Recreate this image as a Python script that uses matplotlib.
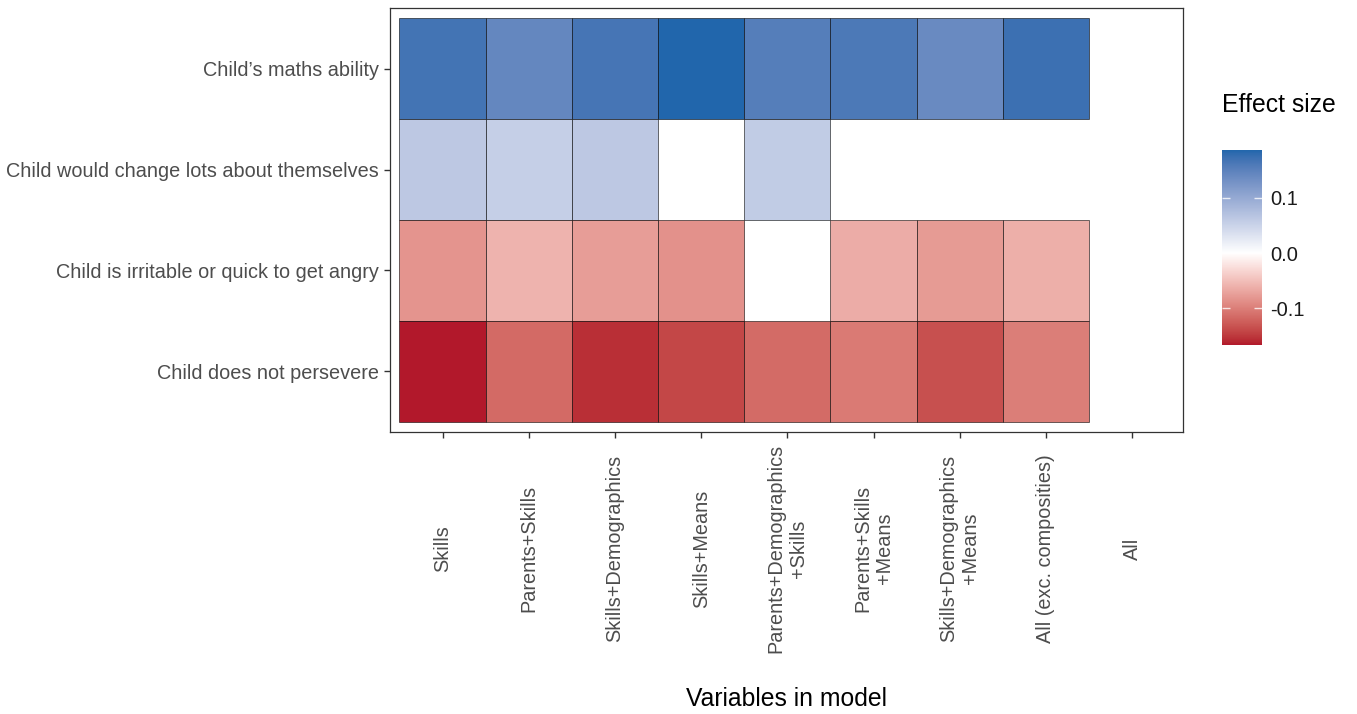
import numpy as np
import matplotlib
matplotlib.use("Agg")
import matplotlib.pyplot as plt
from matplotlib.colors import ListedColormap, Normalize
from matplotlib.patches import Rectangle
from matplotlib.cm import ScalarMappable

plt.rcParams['font.family'] = ['Liberation Sans', 'DejaVu Sans']

# ---- data ----
outcomes = [
    "Child\u2019s maths ability",
    "Child would change lots about themselves",
    "Child is irritable or quick to get angry",
    "Child does not persevere",
]
models = [
    "Skills",
    "Parents+Skills",
    "Skills+Demographics",
    "Skills+Means",
    "Parents+Demographics\n+Skills",
    "Parents+Skills\n+Means",
    "Skills+Demographics\n+Means",
    "All (exc. composities)",
    "All",
]
nan = np.nan
maths_ability = [0.168, 0.143, 0.166, 0.187, 0.155, 0.162, 0.139, 0.173, nan]
change_self = [0.063, 0.055, 0.063, nan, 0.059, nan, nan, nan, nan]
irritable = [-0.083, -0.059, -0.076, -0.086, nan, -0.064, -0.078, -0.062, nan]
not_persevere = [-0.167, -0.116, -0.156, -0.141, -0.115, -0.104, -0.135, -0.100, nan]

rows = [maths_ability, change_self, irritable, not_persevere]

low_col = "#B2182B"
mid_col = "#FFFFFF"
high_col = "#2166AC"


# ---- diverging gradient interpolated in CIELAB ----
def _srgb_to_lin(c):
    c = np.asarray(c, float)
    return np.where(c <= 0.04045, c / 12.92, ((c + 0.055) / 1.055) ** 2.4)


def _lin_to_srgb(c):
    c = np.clip(c, 0, 1)
    return np.where(c <= 0.0031308, 12.92 * c, 1.055 * c ** (1 / 2.4) - 0.055)


M = np.array([[0.4124, 0.3576, 0.1805],
              [0.2126, 0.7152, 0.0722],
              [0.0193, 0.1192, 0.9505]])
WHITE = M @ np.ones(3)


def hex_to_lab(h):
    rgb = np.array([int(h[i:i + 2], 16) / 255 for i in (1, 3, 5)])
    xyz = M @ _srgb_to_lin(rgb) / WHITE
    f = np.where(xyz > 216 / 24389, np.cbrt(xyz), (24389 / 27 * xyz + 16) / 116)
    return np.array([116 * f[1] - 16, 500 * (f[0] - f[1]), 200 * (f[1] - f[2])])


def lab_to_rgb(lab):
    L, a, b = lab
    fy = (L + 16) / 116
    fx = fy + a / 500
    fz = fy - b / 200
    f = np.array([fx, fy, fz])
    xyz = np.where(f ** 3 > 216 / 24389, f ** 3, (116 * f - 16) / (24389 / 27)) * WHITE
    return _lin_to_srgb(np.linalg.solve(M, xyz))


data = np.array(rows, dtype=float)
vmin, vmax = np.nanmin(data), np.nanmax(data)
n = 512
grid = np.linspace(vmin, vmax, n)
lab_low, lab_mid, lab_high = hex_to_lab(low_col), hex_to_lab(mid_col), hex_to_lab(high_col)
cols = []
for v in grid:
    if v < 0:
        lab = lab_mid + (lab_low - lab_mid) * (v / vmin)
    else:
        lab = lab_mid + (lab_high - lab_mid) * (v / vmax)
    cols.append(lab_to_rgb(lab))
cmap = ListedColormap(np.array(cols))
norm = Normalize(vmin, vmax)

# ---- figure ----
W, H = 1357, 714
fig = plt.figure(figsize=(W / 100, H / 100), dpi=100)
ax = fig.add_axes([390 / W, (H - 432) / H, (1183 - 390) / W, (432 - 8) / H])

# one tile per available estimate; missing estimates leave a blank
n_rows = len(outcomes)
for i, row in enumerate(rows):
    y = n_rows - i
    for j, v in enumerate(row):
        if np.isnan(v):
            continue
        ax.add_patch(Rectangle((j + 0.5, y - 0.5), 1, 1, facecolor=cmap(norm(v)),
                               edgecolor=(0, 0, 0, 0.65), linewidth=0.6))

ax.set_xlim(0.5 - 0.11, len(models) + 0.5 + 0.09)
ax.set_ylim(0.5 - 0.1, n_rows + 0.5 + 0.1)

ax.set_yticks(np.arange(1, n_rows + 1))
ax.set_yticklabels(outcomes[::-1], fontsize=14.3, color="#4D4D4D")
ax.set_xticks(np.arange(1, len(models) + 1))
ax.set_xticklabels(models, rotation=90, fontsize=14.3, color="#4D4D4D",
                   ha="center", va="center", multialignment="center")
ax.tick_params(axis="x", length=4, width=1, color="#333333", pad=80)
ax.tick_params(axis="y", length=4, width=1, color="#333333", pad=4)

for s in ax.spines.values():
    s.set_color("#333333")
    s.set_linewidth(0.9)

fig.text(787 / W, 1 - 699 / H, "Variables in model", ha="center", va="center",
         fontsize=17.8, color="black")

# ---- colour bar ----
cax = fig.add_axes([1222 / W, (H - 345) / H, 40 / W, 195 / H])
cb = fig.colorbar(ScalarMappable(norm=norm, cmap=cmap), cax=cax)
cb.outline.set_visible(False)
cb.set_ticks([0.1, 0.0, -0.1])
cb.set_ticklabels(["0.1", "0.0", "-0.1"])
cax.tick_params(axis="y", direction="in", length=5.5, width=1, color=(1, 1, 1, 0.8),
                left=True, right=True, labelsize=14.5, labelcolor="#1A1A1A", pad=6)
fig.text(1222 / W, 1 - 105 / H, "Effect size", ha="left", va="center",
         fontsize=17.8, color="black")

fig.savefig("out.png", dpi=100, facecolor="white")
